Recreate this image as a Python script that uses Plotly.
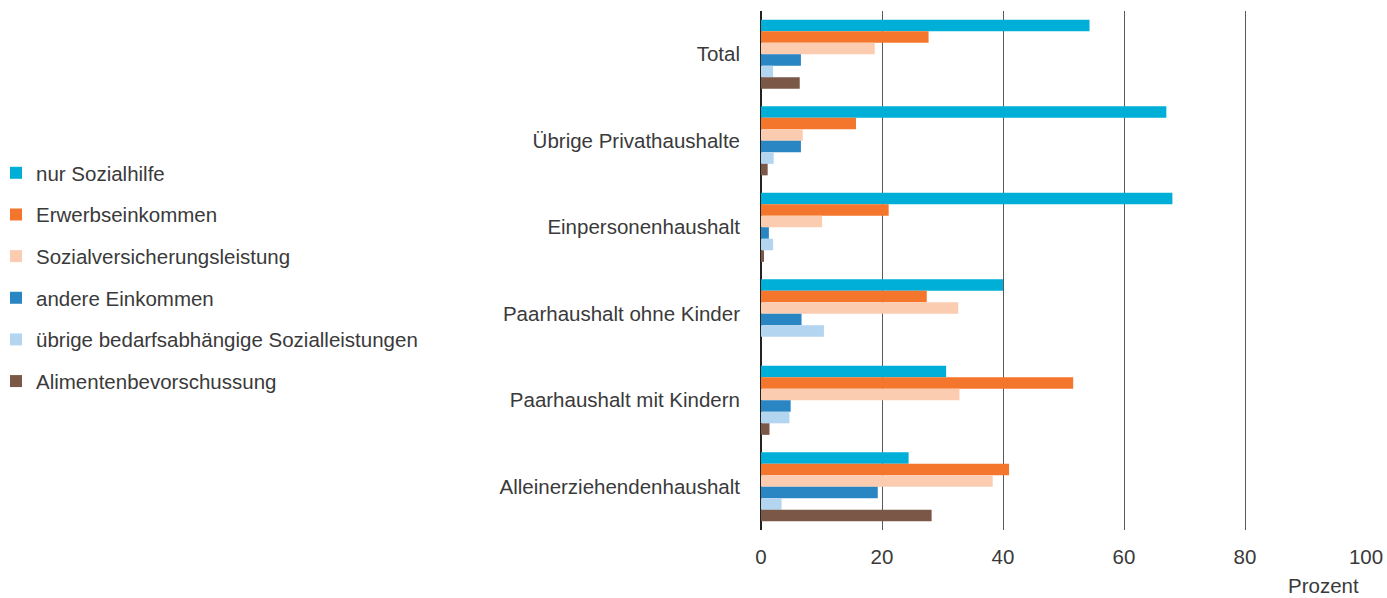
import plotly.graph_objects as go

categories = ["Total", "Übrige Privathaushalte", "Einpersonenhaushalt",
              "Paarhaushalt ohne Kinder", "Paarhaushalt mit Kindern",
              "Alleinerziehendenhaushalt"]

series_names = ["nur Sozialhilfe", "Erwerbseinkommen", "Sozialversicherungsleistung",
                "andere Einkommen", "übrige bedarfsabhängige Sozialleistungen",
                "Alimentenbevorschussung"]

nur_sozialhilfe = [54.3, 67.0, 68.0, 40.0, 30.6, 24.4]
erwerbseinkommen = [27.7, 15.7, 21.1, 27.4, 51.6, 41.0]
sozialversicherung = [18.8, 6.9, 10.1, 32.6, 32.8, 38.3]
andere_einkommen = [6.6, 6.6, 1.3, 6.7, 4.9, 19.3]
uebrige_bedarf = [2.0, 2.1, 2.0, 10.4, 4.7, 3.4]
alimente = [6.4, 1.1, 0.5, 0.0, 1.4, 28.2]

series_values = [nur_sozialhilfe, erwerbseinkommen, sozialversicherung,
                 andere_einkommen, uebrige_bedarf, alimente]

colors = ["#00AFD8", "#F4762C", "#FBCCB0", "#2A86C2", "#B4D5EF", "#7A5747"]

x_ticks = [0, 20, 40, 60, 80, 100]

FONT = "Liberation Sans, Arial, sans-serif"
TXT = "#3a3a3a"
FS = 20.5

L, R, T, B = 761, 21, 11, 68
PW = 1387 - L - R
PH = 598 - T - B

fig = go.Figure()
for i, (name, vals, col) in enumerate(zip(series_names, series_values, colors)):
    fig.add_trace(go.Bar(
        y=categories, x=vals, name=name, orientation="h",
        marker=dict(color=col, line=dict(width=0)),
        legendgroup=f"g{i}",
    ))

fig.update_layout(
    width=1387, height=598,
    margin=dict(l=L, r=R, t=T, b=B, autoexpand=False),
    paper_bgcolor="white", plot_bgcolor="white",
    barmode="group", bargap=0.2, bargroupgap=0,
    font=dict(family=FONT, size=FS, color=TXT),
    showlegend=True,
    legend=dict(
        xref="paper", yref="paper",
        x=(-4 - L) / PW, xanchor="left", y=(598 - B - 153) / PH, yanchor="top",
        font=dict(family=FONT, size=FS, color=TXT),
        tracegroupgap=12, traceorder="grouped",
        itemwidth=30, bgcolor="rgba(0,0,0,0)",
    ),
    xaxis=dict(
        range=[0, 100], tickvals=x_ticks, ticktext=[str(t) for t in x_ticks],
        showgrid=True, gridcolor="#5a5a5a", gridwidth=1,
        zeroline=True, zerolinecolor="#222222", zerolinewidth=1.5,
        showline=False, ticks="", ticklabelstandoff=12,
        tickfont=dict(family=FONT, size=FS, color=TXT),
    ),
    yaxis=dict(
        autorange="reversed", showgrid=False, zeroline=False,
        showline=False, ticks="", ticklabelstandoff=20,
        tickfont=dict(family=FONT, size=FS, color=TXT),
    ),
    annotations=[dict(
        text="Prozent", xref="paper", yref="paper",
        x=(1323 - L) / PW, y=-55 / PH, xanchor="center", yanchor="middle",
        showarrow=False, font=dict(family=FONT, size=FS, color=TXT),
    )],
)

fig.write_html("out.html", config={"displayModeBar": False},
               post_script="document.body.style.margin='0';document.body.style.overflow='hidden';")
